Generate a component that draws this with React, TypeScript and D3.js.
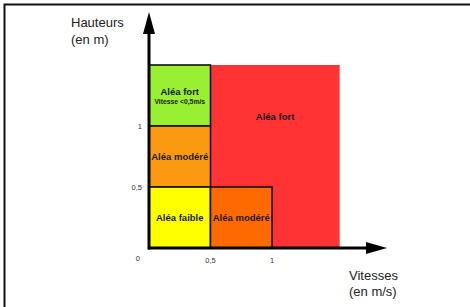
import React, { useEffect, useRef } from 'react'
import * as d3 from 'd3'

// zones of the hazard grid: speed range (m/s) x height range (m)
const zoneNames = ['Aléa fort', 'Aléa fort', 'Aléa modéré', 'Aléa faible', 'Aléa modéré']
const zoneX0 = [0.5, 0, 0, 0, 0.5]
const zoneX1 = [1.55, 0.5, 0.5, 0.5, 1]
const zoneY0 = [0, 1, 0.5, 0, 0]
const zoneY1 = [1.5, 1.5, 1, 0.5, 0.5]
const zoneColors = ['#ff3333', '#99f032', '#fb9a10', '#ffff00', '#ff6a00']
const zoneBorder = [false, true, true, true, true]
const zoneNote = ['', 'Vitesse <0,5m/s', '', '', '']

const xTicks = [0.5, 1]
const xTickLabels = ['0,5', '1']
const yTicks = [0.5, 1]
const yTickLabels = ['0,5', '1']

const W = 470
const H = 307

export default function App() {
  const ref = useRef<SVGSVGElement>(null)

  useEffect(() => {
    const svg = d3.select(ref.current)
    svg.selectAll('*').remove()

    const x = d3.scaleLinear().domain([0, 1]).range([149, 272])
    const y = d3.scaleLinear().domain([0, 1]).range([248, 126])

    svg.append('rect').attr('width', W).attr('height', H).attr('fill', '#fff')
    // frame (only top and left edges show)
    svg.append('rect')
      .attr('x', 4.5).attr('y', 4.5).attr('width', 500).attr('height', 400)
      .attr('fill', 'none').attr('stroke', '#111').attr('stroke-width', 2)

    const font = 'Arial, "Liberation Sans", sans-serif'

    const zones = svg.selectAll('g.zone').data(zoneNames.map((n, i) => i)).enter().append('g')
    zones.append('rect')
      .attr('x', (i) => x(zoneX0[i]))
      .attr('y', (i) => y(zoneY1[i]))
      .attr('width', (i) => x(zoneX1[i]) - x(zoneX0[i]))
      .attr('height', (i) => y(zoneY0[i]) - y(zoneY1[i]))
      .attr('fill', (i) => zoneColors[i])
      .attr('stroke', (i) => (zoneBorder[i] ? '#111' : 'none'))
      .attr('stroke-width', 1.6)

    zones.append('text')
      .attr('x', (i) => (x(zoneX0[i]) + x(zoneX1[i])) / 2)
      .attr('y', (i) => {
        // the big red zone has its label a bit above the middle of its upper part
        if (i === 0) return y(1.07) + 3
        return (y(zoneY1[i]) + y(zoneY0[i])) / 2 + (zoneNote[i] ? -1 : 3)
      })
      .attr('text-anchor', 'middle')
      .attr('font-family', font)
      .attr('font-weight', 'bold')
      .attr('font-size', 9.5)
      .attr('fill', '#1a1a1a')
      .text((i) => zoneNames[i])

    zones.filter((i) => zoneNote[i] !== '').append('text')
      .attr('x', (i) => (x(zoneX0[i]) + x(zoneX1[i])) / 2)
      .attr('y', (i) => (y(zoneY1[i]) + y(zoneY0[i])) / 2 + 8)
      .attr('text-anchor', 'middle')
      .attr('font-family', font)
      .attr('font-weight', 'bold')
      .attr('font-size', 6.8)
      .attr('fill', '#1a1a1a')
      .text((i) => zoneNote[i])

    // axes
    svg.append('line')
      .attr('x1', x(0) - 1).attr('x2', 370).attr('y1', y(0)).attr('y2', y(0))
      .attr('stroke', '#000').attr('stroke-width', 3)
    svg.append('path')
      .attr('d', `M366,${y(0) - 6}L387,${y(0)}L366,${y(0) + 6}Z`).attr('fill', '#000')
    svg.append('line')
      .attr('x1', x(0)).attr('x2', x(0)).attr('y1', y(0) + 1.5).attr('y2', 30)
      .attr('stroke', '#000').attr('stroke-width', 3)
    svg.append('path')
      .attr('d', `M${x(0) - 6},34L${x(0)},12L${x(0) + 6},34Z`).attr('fill', '#000')

    // tick labels
    svg.selectAll('text.xt').data(xTicks).enter().append('text')
      .attr('x', (d) => x(d)).attr('y', 263)
      .attr('text-anchor', 'middle').attr('font-family', font).attr('font-size', 7.5)
      .attr('fill', '#333').text((d, i) => xTickLabels[i])
    svg.selectAll('text.yt').data(yTicks).enter().append('text')
      .attr('x', 142).attr('y', (d) => y(d) + 3)
      .attr('text-anchor', 'end').attr('font-family', font).attr('font-size', 7.5)
      .attr('fill', '#333').text((d, i) => yTickLabels[i])
    svg.append('text').attr('x', 140).attr('y', 261)
      .attr('text-anchor', 'end').attr('font-family', font).attr('font-size', 7.5)
      .attr('fill', '#333').text('0')

    // axis titles
    const title = (tx: number, ty: number, s: string) =>
      svg.append('text').attr('x', tx).attr('y', ty).attr('font-family', font)
        .attr('font-size', 13).attr('fill', '#222').text(s)
    title(71, 27, 'Hauteurs')
    title(71, 44, '(en m)')
    title(349, 280, 'Vitesses')
    title(349, 296, '(en m/s)')
  }, [])

  return (
    <svg
      ref={ref}
      width={W}
      height={H}
      style={{ position: 'absolute', left: 0, top: 0, display: 'block' }}
    ></svg>
  )
}
